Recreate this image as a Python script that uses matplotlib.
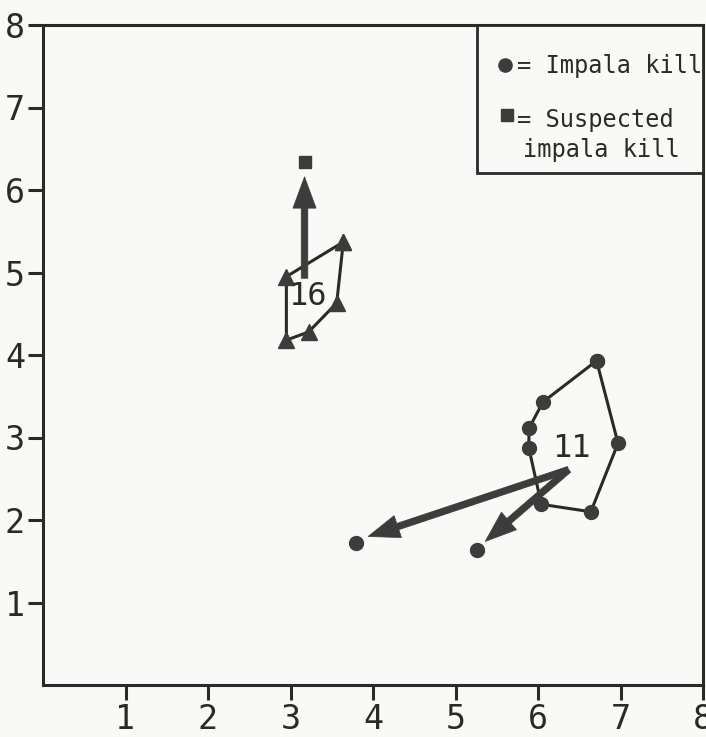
import matplotlib
matplotlib.use("Agg")
import matplotlib.pyplot as plt
from matplotlib.patches import Rectangle

# Home-range outline for jackal 11 (impala kills), listed in drawing order
kill11_x = [6.71, 6.06, 5.89, 5.89, 6.04, 6.64, 6.97, 6.71]
kill11_y = [3.93, 3.43, 3.11, 2.87, 2.19, 2.10, 2.93, 3.93]

# Kills outside the outline for jackal 11
out11_x = [3.79, 5.26]
out11_y = [1.72, 1.64]

# Home-range outline for jackal 16 (triangles)
range16_x = [3.64, 2.95, 2.95, 3.22, 3.56, 3.64]
range16_y = [5.37, 4.95, 4.18, 4.28, 4.63, 5.37]

# Suspected impala kill
susp_x = [3.17]
susp_y = [6.34]

# Movement arrows: (start x, start y, end x, end y)
arrows = [
    (6.37, 2.61, 3.94, 1.80),
    (6.37, 2.61, 5.36, 1.74),
    (3.17, 4.93, 3.17, 6.16),
]

# Animal labels
labels = [("11", 6.41, 2.87), ("16", 3.21, 4.71)]

ticks = [1, 2, 3, 4, 5, 6, 7, 8]

ink = "#2a2a2a"
mark = "#3c3c3c"
bg = "#f9f9f7"
mono = "DejaVu Sans Mono"

fig = plt.figure(figsize=(7.06, 7.37), dpi=100, facecolor=bg)
ax = fig.add_axes([43 / 706, 1 - 685 / 737, 660 / 706, 660 / 737])
ax.set_facecolor(bg)
ax.set_xlim(0, 8)
ax.set_ylim(0, 8)

for s in ax.spines.values():
    s.set_linewidth(2.2)
    s.set_color(ink)

ax.set_xticks(ticks)
ax.set_yticks(ticks)
ax.set_xticklabels([str(t) for t in ticks])
ax.set_yticklabels([str(t) for t in ticks])
ax.tick_params(axis="both", direction="out", length=11, width=2.2,
               color=ink, labelcolor=ink, labelsize=24, pad=2)
for lab in ax.get_xticklabels() + ax.get_yticklabels():
    lab.set_fontfamily(mono)

# Outlines
ax.plot(kill11_x, kill11_y, color=ink, lw=2.2, marker="o", ms=10,
        mfc=mark, mec=mark, zorder=3)
ax.plot(out11_x, out11_y, ls="none", marker="o", ms=10,
        mfc=mark, mec=mark, zorder=3)
ax.plot(range16_x, range16_y, color=ink, lw=2.2, marker="^", ms=11,
        mfc=mark, mec=mark, zorder=3)
ax.plot(susp_x, susp_y, ls="none", marker="s", ms=8,
        mfc=mark, mec=mark, zorder=3)

# Movement arrows
for x0, y0, x1, y1 in arrows:
    ax.arrow(x0, y0, x1 - x0, y1 - y0, width=0.08, head_width=0.28,
             head_length=0.38, length_includes_head=True,
             fc=mark, ec=mark, lw=0.5, zorder=4)

for txt, x, y in labels:
    ax.text(x, y, txt, ha="center", va="center", fontsize=23,
            family=mono, color=ink, zorder=5)

# Key box in the upper right corner
ax.add_patch(Rectangle((5.26, 6.21), 8 - 5.26, 8 - 6.21, fill=True,
                       fc=bg, ec=ink, lw=2.0, zorder=6, clip_on=False))
ax.plot([5.60], [7.52], marker="o", ms=9.5, mfc=mark, mec=mark,
        ls="none", zorder=7, clip_on=False)
ax.plot([5.62], [6.91], marker="s", ms=8, mfc=mark, mec=mark,
        ls="none", zorder=7, clip_on=False)
ax.text(5.75, 7.42, "= Impala kill", fontsize=17, family=mono,
        color=ink, va="baseline", ha="left", zorder=7, clip_on=False)
ax.text(5.75, 6.76, "= Suspected", fontsize=17, family=mono,
        color=ink, va="baseline", ha="left", zorder=7, clip_on=False)
ax.text(5.82, 6.40, "impala kill", fontsize=17, family=mono,
        color=ink, va="baseline", ha="left", zorder=7, clip_on=False)

fig.savefig("out.png", dpi=100, facecolor=bg)
